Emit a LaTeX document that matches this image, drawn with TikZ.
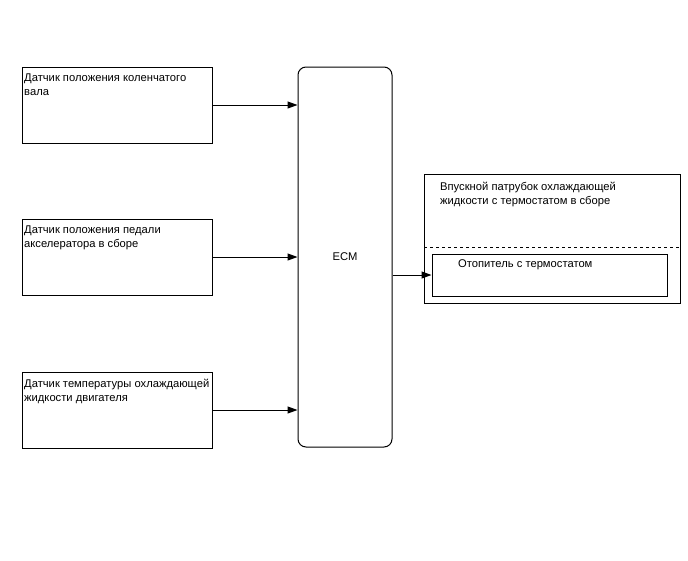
\documentclass[tikz,border=0pt]{standalone}
\usepackage{fontspec}
\setmainfont{Liberation Sans}
\usetikzlibrary{positioning,arrows.meta}

\tikzset{
  box/.style={draw, line width=1pt, inner sep=0pt},
  sensor/.style={box, minimum width=190pt, minimum height=76pt},
  txt/.style={align=left, inner sep=2pt, font=\fontsize{11.2}{14}\selectfont},
  conn/.style={line width=1pt, -{Triangle[length=10pt,width=7pt]}},
}

\begin{document}
\begin{tikzpicture}[x=1pt,y=-1pt]
  \useasboundingbox (0,0) rectangle (688,560);
  % sensors on the left
  \node[sensor] (crank) at (117,105) {};
  \node[txt, anchor=north west] (cranktxt) at (22,72) {Датчик положения коленчатого\\вала};
  \node[sensor] (pedal) at (117,257) {};
  \node[txt, anchor=north west] (pedaltxt) at (22,224) {Датчик положения педали\\акселератора в сборе};
  \node[sensor] (ect) at (117,410) {};
  \node[txt, anchor=north west] (ecttxt) at (22,377) {Датчик температуры охлаждающей\\жидкости двигателя};
  % control unit
  \node[box, rounded corners=8pt, minimum width=94pt, minimum height=380pt, txt] (ecm) at (345,257) {ECM};
  % intake assembly with heater
  \node[box, minimum width=256pt, minimum height=129pt] (assy) at (552,238.5) {};
  \node[txt, anchor=north west] (assytxt) at (438,180) {Впускной патрубок охлаждающей\\жидкости с термостатом в сборе};
  \coordinate (dl) at (424,247);
  \coordinate (dr) at (680,247);
  \draw[dashed, line width=1pt] (dl) -- (dr);
  \node[box, minimum width=235pt, minimum height=42pt] (heater) at (549.5,275) {};
  \node[txt, anchor=north west] (heatertxt) at (456,257) {Отопитель с термостатом};
  % connections
  \draw[conn] (crank.east) -- (crank.east -| ecm.west);
  \draw[conn] (pedal.east) -- (pedal.east -| ecm.west);
  \draw[conn] (ect.east) -- (ect.east -| ecm.west);
  \draw[conn] (heater.west -| ecm.east) -- (heater.west);
\end{tikzpicture}
\end{document}
